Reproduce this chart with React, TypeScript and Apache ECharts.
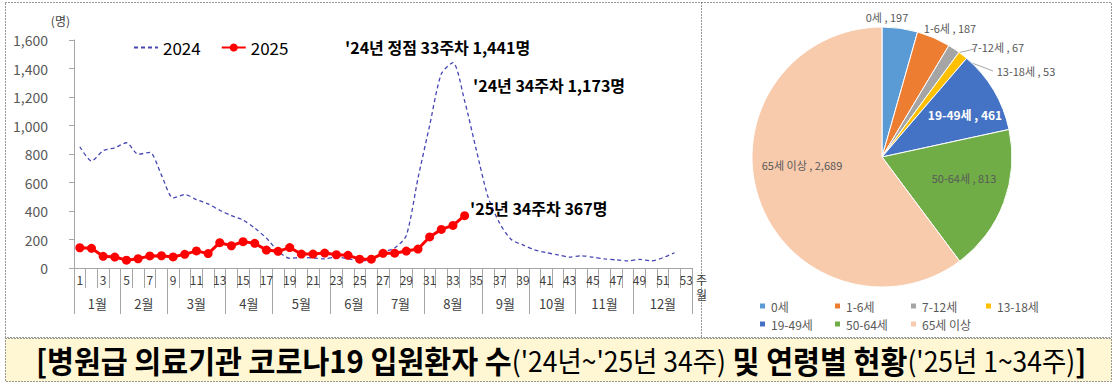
import React, { useEffect, useRef } from 'react';
import * as echarts from 'echarts';

// ---------- data ----------
const weekLabels = ['1','2','3','4','5','6','7','8','9','10','11','12','13','14','15','16','17','18','19','20','21','22','23','24','25','26','27','28','29','30','31','32','33','34','35','36','37','38','39','40','41','42','43','44','45','46','47','48','49','50','51','52','53'];
const series2024 = [851,751,823,844,879,798,812,652,491,515,480,450,405,368,337,280,210,118,68,74,71,64,77,65,52,56,110,140,228,630,1000,1362,1441,1173,830,500,315,200,162,128,108,92,76,86,76,64,57,50,60,50,72,107,null];
const series2025 = [142,138,82,77,55,65,85,86,78,96,120,101,178,156,185,173,126,117,143,98,98,105,93,89,62,62,103,104,119,133,218,271,299,367];
const monthNames = ['1월','2월','3월','4월','5월','6월','7월','8월','9월','10월','11월','12월'];
const monthBounds = [0,4,8,13,17,22,26,30,35,39,43,48,53];
const yMax = 1600;
const yStep = 200;

const ageGroups = ['0세','1-6세','7-12세','13-18세','19-49세','50-64세','65세 이상'];
const ageCounts = [197,187,67,53,461,813,2689];

const annotations = ["'24년 정점 33주차 1,441명", "'24년 34주차 1,173명", "'25년 34주차 367명"];
const titleBold1 = '[병원급 의료기관 코로나19 입원환자 수';
const titleNorm1 = "('24년~'25년 34주)";
const titleBold2 = ' 및 연령별 현황';
const titleNorm2 = "('25년 1~34주)";
const titleEnd = ']';

// ---------- styles / layout ----------
const ageColors = ['#5B9BD5','#ED7D31','#A5A5A5','#FFC000','#4472C4','#70AD47','#F8CBAD'];
const FONT = "'Noto Sans CJK KR', 'Noto Sans', sans-serif";
const pieLabelPos: [number, number][] = [[887,17],[950,28],[998,47],[1026,71],[965,114],[964,178],[802,165]];
const pieLinePts: Record<number, number[][]> = {
  2: [[957,53],[966,51],[974,49]],
  3: [[966,61],[980,66],[993,71]],
};
const annPos: [number, number][] = [[345,47],[473,85],[470,208]];
const pieLegendCols = [753, 828, 904, 979];
const pieLegendRows = [295, 313];

const monthMids = monthBounds.slice(0, -1).map((b, i) => (b + monthBounds[i + 1]) / 2);

export default function App() {
  const ref = useRef<HTMLDivElement>(null);
  useEffect(() => {
    if (!ref.current) return;
    const chart = echarts.init(ref.current, undefined, { renderer: 'svg' });
    const pieLegends = ageGroups.map((name, i) => ({
      data: [name],
      left: pieLegendCols[i % 4],
      top: pieLegendRows[Math.floor(i / 4)],
      icon: 'rect', itemWidth: 7, itemHeight: 7,
      textStyle: { fontSize: 12, color: '#595959', fontFamily: FONT },
    }));
    const option: any = {
      animation: false,
      textStyle: { fontFamily: FONT },
      grid: { left: 74, right: 426, top: 40, bottom: 120, containLabel: false },
      legend: [
        {
          data: [
            { name: '2024', itemStyle: { color: 'rgba(0,0,0,0)', borderWidth: 0 } },
            { name: '2025' },
          ],
          left: 128, top: 34,
          itemWidth: 24, itemHeight: 10, itemGap: 20,
          textStyle: { fontSize: 17, color: '#000', fontFamily: FONT },
        },
        ...pieLegends,
      ],
      xAxis: [
        {
          type: 'category',
          data: weekLabels,
          boundaryGap: true,
          axisLine: { lineStyle: { color: '#A6A6A6' } },
          axisTick: { show: true, interval: 0, length: 20, lineStyle: { color: '#A6A6A6' } },
          axisLabel: { interval: 1, fontSize: 12, color: '#404040', margin: 5, fontFamily: FONT },
        },
        {
          type: 'value',
          min: 0, max: 53,
          position: 'bottom',
          axisLine: { show: false },
          splitLine: { show: false },
          axisTick: { show: true, customValues: monthBounds, length: 46, lineStyle: { color: '#A6A6A6' } },
          axisLabel: {
            customValues: monthMids,
            margin: 29,
            fontSize: 13,
            color: '#404040',
            fontFamily: FONT,
            formatter: (v: number) => {
              const i = monthMids.findIndex((m) => Math.abs(m - v) < 1e-6);
              return i >= 0 ? monthNames[i] : '';
            },
          },
        },
      ],
      yAxis: {
        type: 'value',
        min: 0, max: yMax, interval: yStep,
        name: '(명)',
        nameLocation: 'end',
        nameGap: 14,
        nameTextStyle: { fontSize: 12, color: '#404040', align: 'right', padding: [0, 4, 0, 0], fontFamily: FONT },
        axisLine: { show: true, lineStyle: { color: '#A6A6A6' } },
        axisTick: { show: true, length: 5, lineStyle: { color: '#A6A6A6' } },
        splitLine: { show: false },
        axisLabel: {
          fontSize: 14, color: '#595959', margin: 26, fontFamily: FONT,
          formatter: (v: number) => v.toLocaleString('en-US'),
        },
      },
      series: [
        {
          name: '2024',
          type: 'line',
          xAxisIndex: 0, yAxisIndex: 0,
          data: series2024,
          smooth: 0.25,
          showSymbol: false,
          symbol: 'none',
          lineStyle: { color: '#4646B4', width: 1.3, type: [4, 3] },
          itemStyle: { color: '#4646B4' },
          z: 2,
        },
        {
          name: '2025',
          type: 'line',
          xAxisIndex: 0, yAxisIndex: 0,
          data: series2025,
          symbol: 'circle',
          symbolSize: 9,
          showSymbol: true,
          showAllSymbol: true,
          lineStyle: { color: '#FF0000', width: 3 },
          itemStyle: { color: '#FF0000' },
          z: 3,
        },
        {
          name: '연령별',
          type: 'pie',
          center: [882, 157],
          radius: 130,
          startAngle: 90,
          clockwise: true,
          avoidLabelOverlap: false,
          legendHoverLink: false,
          itemStyle: { borderColor: '#fff', borderWidth: 1 },
          label: {
            show: true,
            position: 'outside',
            fontSize: 11,
            color: '#595959',
            fontFamily: FONT,
            formatter: (p: any) => `${p.name} , ${Number(p.value).toLocaleString('en-US')}`,
          },
          labelLine: { show: false, lineStyle: { color: '#A6A6A6', width: 1 } },
          labelLayout: (params: any) => {
            const i = params.dataIndex;
            const p = pieLabelPos[i];
            const res: any = { x: p[0], y: p[1], align: 'center', verticalAlign: 'middle' };
            if (pieLinePts[i]) res.labelLinePoints = pieLinePts[i];
            return res;
          },
          data: ageGroups.map((name, i) => {
            const item: any = { name, value: ageCounts[i], itemStyle: { color: ageColors[i] } };
            if (pieLinePts[i]) item.labelLine = { show: true, length: 8, length2: 10 };
            if (i === 4) item.label = { color: '#fff', fontWeight: 'bold', fontSize: 12 };
            return item;
          }),
        },
      ],
      graphic: [
        { type: 'rect', z: -10, shape: { x: 5.5, y: 2.5, width: 1106, height: 335 }, style: { fill: '#fff', stroke: '#333', lineWidth: 1, lineDash: [1, 2] } },
        { type: 'line', z: -9, shape: { x1: 701.5, y1: 2.5, x2: 701.5, y2: 337.5 }, style: { stroke: '#333', lineWidth: 1, lineDash: [1, 2] } },
        { type: 'rect', z: -10, shape: { x: 5.5, y: 338.5, width: 1106, height: 43 }, style: { fill: '#FFF7D4', stroke: '#333', lineWidth: 1, lineDash: [1, 2] } },
        { type: 'text', x: 696, y: 279, style: { text: '주', fontSize: 12, fill: '#404040', fontFamily: FONT, verticalAlign: 'middle' } },
        { type: 'text', x: 696, y: 294, style: { text: '월', fontSize: 12, fill: '#404040', fontFamily: FONT, verticalAlign: 'middle' } },
        ...annotations.map((t, i) => ({
          type: 'text', x: annPos[i][0], y: annPos[i][1], z: 10,
          style: { text: t, fontSize: 16, fontWeight: 'bold', fill: '#000', fontFamily: FONT, verticalAlign: 'middle' },
        })),
        {
          type: 'text', x: 561, y: 360, scaleX: 0.944, z: 10,
          style: {
            text: `{b|${titleBold1}}{n|${titleNorm1}}{b|${titleBold2}}{n|${titleNorm2}}{b|${titleEnd}}`,
            align: 'center', verticalAlign: 'middle',
            rich: {
              b: { fontSize: 31, fontWeight: 'bold', fill: '#000', fontFamily: FONT },
              n: { fontSize: 28, fontWeight: 'normal', fill: '#000', fontFamily: FONT },
            },
          },
        },
      ],
    };
    chart.setOption(option);
    return () => chart.dispose();
  }, []);
  return <div ref={ref} style={{ width: 1118, height: 388, position: 'absolute', left: 0, top: 0 }} />;
}
